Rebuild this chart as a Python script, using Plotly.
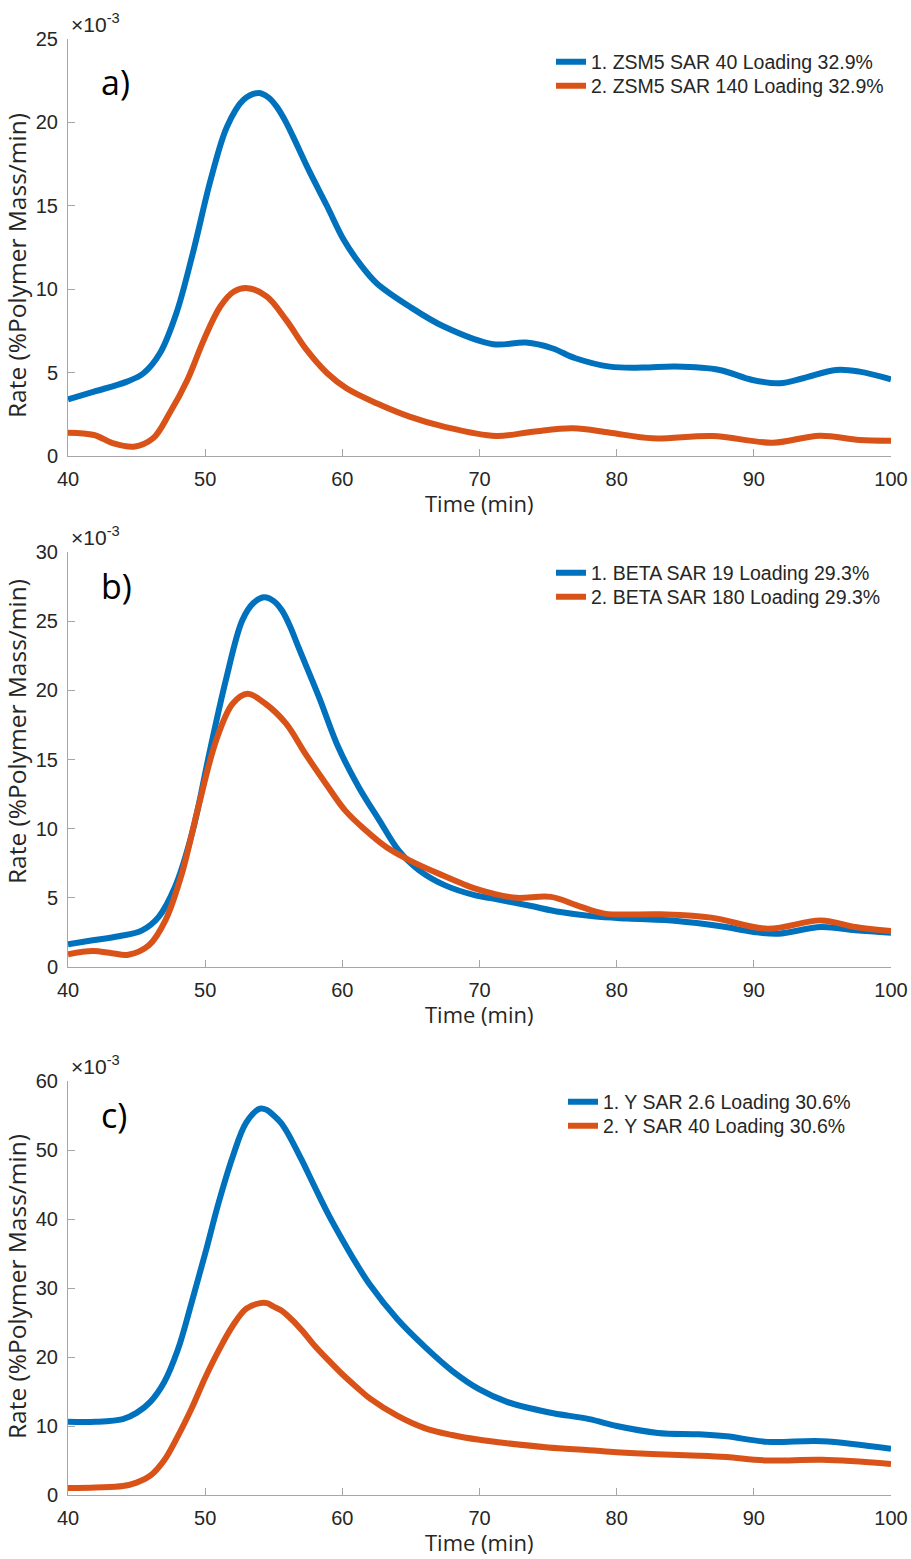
import plotly.graph_objects as go

# ---- data: time in min, rate in units of 1e-3 %Polymer Mass/min ----
# a) ZSM5
t_zsm5_sar40 = [40, 41.9, 44.3, 45.5, 46.7, 47.9, 49.1, 50.4, 51.6, 52.8, 53.9, 54.6, 55.2, 55.8,
                56.4, 57.6, 58.9, 60.1, 61.3, 62.5, 64.9, 67.4, 71.0, 73.4, 75.3, 77.0, 79.5,
                81.9, 84.3, 87.5, 89.9, 91.9, 93.6, 96.0, 97.7, 100]
r_zsm5_sar40 = [3.40, 3.86, 4.46, 4.96, 6.16, 8.56, 12.16, 16.56, 19.76, 21.36, 21.76, 21.50, 20.96,
                20.15, 19.16, 17.06, 14.96, 12.96, 11.50, 10.36, 8.96, 7.76, 6.70, 6.80, 6.46, 5.86,
                5.36, 5.30, 5.36, 5.16, 4.56, 4.36, 4.66, 5.16, 5.06, 4.60]
t_zsm5_sar140 = [40, 41.9, 43.3, 44.8, 46.2, 47.4, 48.7, 49.9, 51.1, 52.1, 53.1, 54.5, 55.9, 57.4,
                 58.9, 60.3, 62.5, 64.9, 67.4, 71.2, 73.9, 76.8, 79.5, 82.6, 87.0, 91.4, 94.8,
                 97.7, 100]
r_zsm5_sar140 = [1.40, 1.26, 0.76, 0.56, 1.06, 2.56, 4.56, 6.96, 8.96, 9.86, 10.06, 9.56, 8.16, 6.36,
                 4.96, 4.06, 3.16, 2.36, 1.76, 1.20, 1.46, 1.66, 1.40, 1.06, 1.20, 0.80, 1.22,
                 0.96, 0.92]

# b) BETA
t_beta_sar19 = [40, 41.8, 43.7, 45.4, 46.6, 47.8, 49.1, 50.3, 51.5, 52.7, 53.5, 54.3, 55.0, 55.6,
                56.2, 56.8, 58.3, 59.7, 61.2, 62.7, 64.1, 65.6, 67.5, 69.7, 71.0, 73.5, 75.9,
                78.3, 80.8, 84.4, 87.6, 90.0, 91.8, 94.9, 97.4, 100]
r_beta_sar19 = [1.64, 1.93, 2.22, 2.65, 3.61, 5.78, 9.88, 15.42, 20.71, 25.05, 26.30, 26.73, 26.45,
                25.77, 24.60, 23.12, 19.51, 15.90, 13.00, 10.60, 8.43, 6.99, 5.90, 5.18, 4.94,
                4.46, 3.97, 3.66, 3.50, 3.33, 2.94, 2.53, 2.41, 2.89, 2.65, 2.48]
t_beta_sar180 = [40, 41.8, 43.2, 44.4, 45.9, 47.1, 48.3, 49.5, 50.8, 52.0, 53.1, 54.4, 55.9, 57.3,
                 58.8, 60.2, 61.7, 63.2, 64.9, 67.3, 69.7, 71.0, 72.7, 75.2, 77.1, 79.1, 83.2,
                 86.9, 91.0, 94.9, 97.4, 100]
r_beta_sar180 = [0.92, 1.16, 1.00, 0.89, 1.57, 3.37, 6.75, 11.56, 16.38, 19.03, 19.75, 19.03, 17.59,
                 15.42, 13.25, 11.32, 9.88, 8.67, 7.71, 6.63, 5.66, 5.30, 5.00, 5.07, 4.46, 3.86,
                 3.81, 3.57, 2.77, 3.37, 2.89, 2.60]

# c) Y
t_y = [40, 42, 44, 45, 46, 47, 48, 49, 50, 51, 52, 53, 54, 54.5, 55, 55.5, 56, 57, 58, 59, 60,
       61, 62, 64, 66, 68, 70, 72, 75, 78, 80, 83, 86, 88, 91, 95, 100]
r_y_sar26 = [10.6, 10.6, 11.0, 11.9, 13.5, 16.3, 21.0, 27.8, 35.0, 42.5, 49.0, 54.0, 56.0, 55.8,
             55.0, 54.0, 52.5, 48.7, 44.6, 40.6, 37.0, 33.6, 30.5, 25.5, 21.5, 18.0, 15.3, 13.5,
             12.0, 11.0, 10.0, 9.0, 8.8, 8.5, 7.7, 7.8, 6.7]
r_y_sar40 = [1.0, 1.1, 1.3, 1.8, 2.8, 5.0, 8.5, 12.5, 17.0, 21.0, 24.5, 27.0, 27.8, 27.8, 27.3,
             26.8, 26.0, 24.0, 21.6, 19.5, 17.5, 15.7, 14.0, 11.5, 9.7, 8.7, 8.0, 7.5, 6.9, 6.5,
             6.2, 5.9, 5.7, 5.5, 5.0, 5.1, 4.5]

labels = [
    ("1. ZSM5 SAR 40 Loading 32.9%", "2. ZSM5 SAR 140 Loading 32.9%"),
    ("1. BETA SAR 19 Loading 29.3%", "2. BETA SAR 180 Loading 29.3%"),
    ("1. Y SAR 2.6 Loading 30.6%", "2. Y SAR 40 Loading 30.6%"),
]
series = [
    ((t_zsm5_sar40, r_zsm5_sar40), (t_zsm5_sar140, r_zsm5_sar140)),
    ((t_beta_sar19, r_beta_sar19), (t_beta_sar180, r_beta_sar180)),
    ((t_y, r_y_sar26), (t_y, r_y_sar40)),
]
panel_letters = ["a)", "b)", "c)"]
y_max = [25, 30, 60]
y_step = [5, 5, 10]
x_ticks = [40, 50, 60, 70, 80, 90, 100]

# ---- layout geometry (pixels) ----
W, H = 911, 1559
BLUE, ORANGE = "#0072BD", "#D95319"
AXIS_GREY = "#a6a6a6"
TEXT = "#262626"
plot_left, plot_right = 68, 891
panel_tops = [39, 552, 1081]
panel_bottoms = [456, 967, 1495]
legend_left = [551, 551, 563]
legend_rows = [(62, 86), (573, 597), (1102, 1126)]
letter_centres = [82, 586, 1115]
ylabel_centres = [266, 732, 1287]


def fx(p):
    return p / W


def fy(p):
    return 1 - p / H


fig = go.Figure()
layout = dict(
    width=W, height=H, margin=dict(l=0, r=0, t=0, b=0, autoexpand=False),
    paper_bgcolor="white", plot_bgcolor="white",
    font=dict(family="Liberation Sans, Arial", color=TEXT),
    annotations=[],
)

for i in range(3):
    n = i + 1
    xa = "x" if n == 1 else f"x{n}"
    ya = "y" if n == 1 else f"y{n}"
    for j, (colour, (tt, rr)) in enumerate(zip((BLUE, ORANGE), series[i])):
        leg_id = 2 * i + j + 1
        leg_name = "legend" if leg_id == 1 else f"legend{leg_id}"
        fig.add_trace(go.Scatter(
            x=tt, y=rr, mode="lines", name=labels[i][j],
            line=dict(color=colour, width=6, shape="spline", smoothing=1.0),
            xaxis=xa, yaxis=ya, legend=leg_name, showlegend=True,
        ))
        layout[leg_name] = dict(
            x=fx(legend_left[i]), y=fy(legend_rows[i][j]), xanchor="left", yanchor="middle",
            bgcolor="rgba(0,0,0,0)", borderwidth=0,
            font=dict(family="Liberation Sans, Arial", size=19.5, color=TEXT),
            itemwidth=30,
        )

    axis_common = dict(
        showline=True, linecolor=AXIS_GREY, linewidth=1,
        ticks="inside", ticklen=7, tickwidth=1, tickcolor=AXIS_GREY,
        showgrid=False, zeroline=False, mirror=False, automargin=False,
        tickfont=dict(family="Liberation Sans, Arial", size=20, color=TEXT),
    )
    layout["xaxis" if n == 1 else f"xaxis{n}"] = dict(
        axis_common, domain=[fx(plot_left), fx(plot_right)], anchor=ya,
        range=[40, 100], tickvals=x_ticks, ticklabelstandoff=5,
    )
    layout["yaxis" if n == 1 else f"yaxis{n}"] = dict(
        axis_common, domain=[fy(panel_bottoms[i]), fy(panel_tops[i])], anchor=xa,
        range=[0, y_max[i]], tick0=0, dtick=y_step[i], ticklabelstandoff=5,
    )

    top, bottom = panel_tops[i], panel_bottoms[i]
    # exponent marker above the y axis
    layout["annotations"].append(dict(
        xref="paper", yref="paper", x=fx(plot_left + 1), y=fy(top - 1),
        xanchor="left", yanchor="bottom", showarrow=False,
        text="×10<sup>-3</sup>", font=dict(family="Liberation Sans, Arial", size=21, color=TEXT),
    ))
    # panel letter
    layout["annotations"].append(dict(
        xref="paper", yref="paper", x=fx(99), y=fy(letter_centres[i]),
        xanchor="left", yanchor="middle", showarrow=False,
        text=panel_letters[i], font=dict(family="Open Sans", size=34, color="black"),
    ))
    # axis titles
    layout["annotations"].append(dict(
        xref="paper", yref="paper", x=fx((plot_left + plot_right) / 2), y=fy(bottom + 47),
        xanchor="center", yanchor="middle", showarrow=False,
        text="Time (min)", font=dict(family="Open Sans", size=22, color=TEXT),
    ))
    layout["annotations"].append(dict(
        xref="paper", yref="paper", x=fx(16), y=fy(ylabel_centres[i]),
        xanchor="center", yanchor="middle", showarrow=False, textangle=-90,
        text="Rate (%Polymer Mass/min)", font=dict(family="Open Sans", size=24.5, color=TEXT),
    ))

fig.update_layout(**layout)
fig.write_html("out.html")
